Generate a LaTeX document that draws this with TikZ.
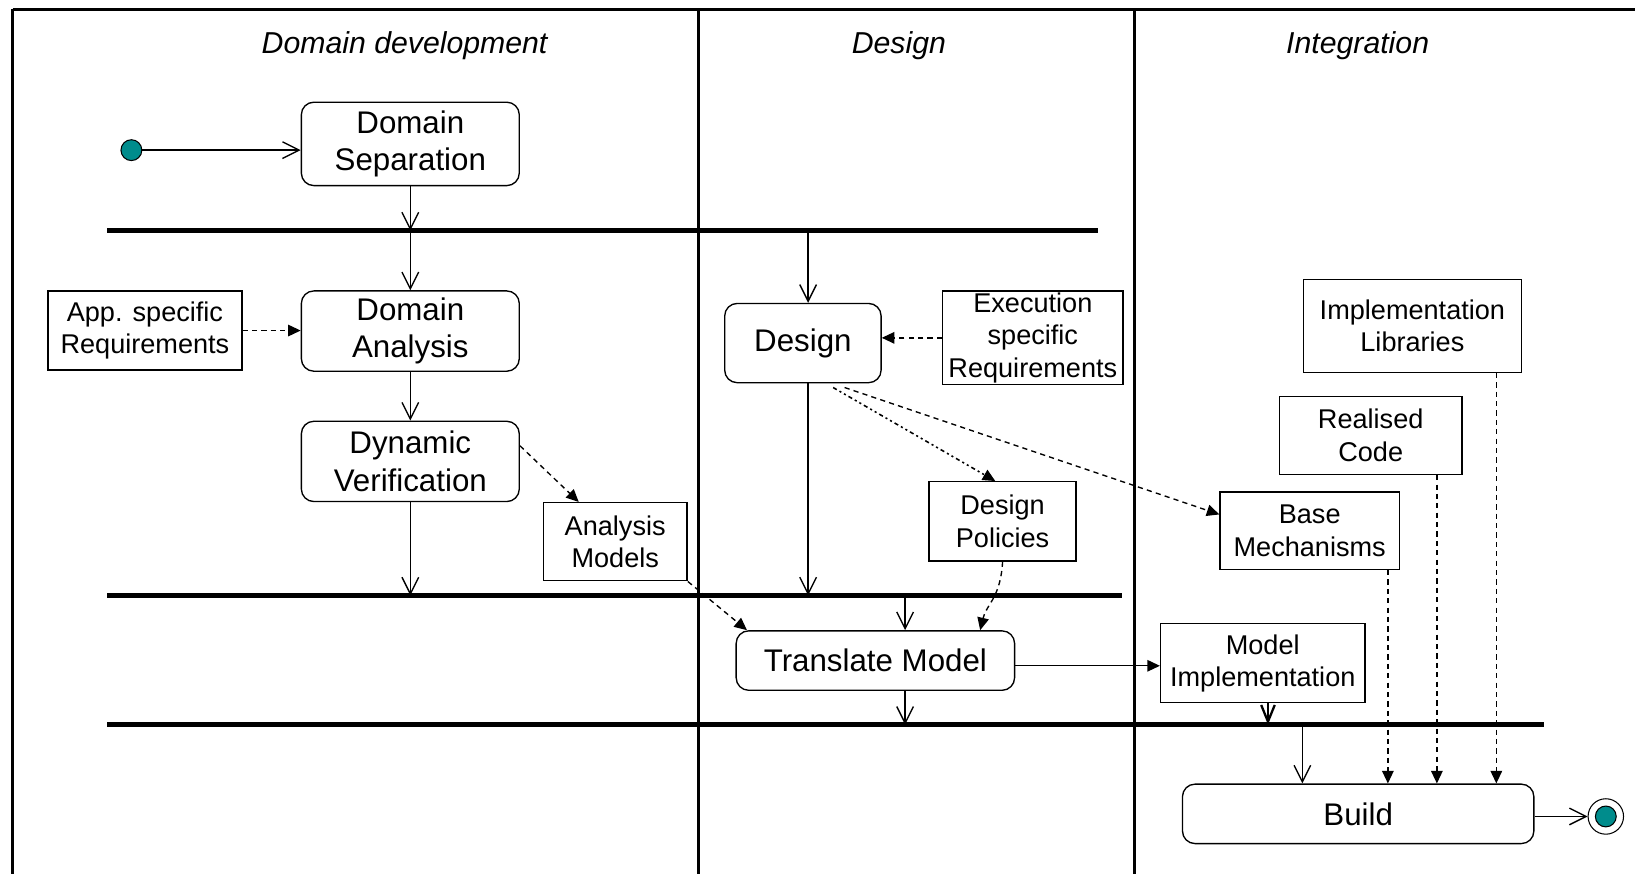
\documentclass[tikz,border=0pt]{standalone}
\usepackage{fontspec}
\setmainfont{Liberation Sans}
\usetikzlibrary{arrows.meta}
\definecolor{dotteal}{RGB}{0,140,140}

\begin{document}
\begin{tikzpicture}[x=1pt,y=-1pt,
  act/.style={draw, line width=1.3pt, rounded corners=12pt, inner sep=0pt,
    align=center, font=\fontsize{30}{36}\selectfont},
  obj/.style={draw, line width=1.3pt, inner sep=0pt, align=center,
    font=\fontsize{26}{31}\selectfont},
  lane/.style={font=\fontsize{29}{34}\selectfont\itshape},
  frameline/.style={line width=2.5pt},
  syncbar/.style={line width=5pt},
  flow/.style={line width=1.3pt,
    -{Straight Barb[length=16pt,width=16pt,line width=1.3pt]}},
  dep/.style={line width=1.3pt, dash pattern=on 5pt off 4pt,
    -{Triangle[length=12pt,width=11pt]}},
  depdot/.style={line width=1.5pt,
    dash pattern=on 4pt off 3pt on 2pt off 3pt on 2pt off 3pt,
    -{Triangle[length=12pt,width=11pt]}},
  solidobj/.style={line width=1.3pt, -{Triangle[length=12pt,width=11pt]}}
]
\useasboundingbox (0,0) rectangle (1568,838);

% swimlane frame and dividers
\coordinate (tl) at (12,9);
\coordinate (tr) at (1568,9);
\coordinate (bl) at (12,838);
\draw[line width=3pt] (tl) -- (tr);
\draw[line width=2pt] (tl) -- (bl);
\coordinate (d1t) at (670,9);
\coordinate (d1b) at (670,838);
\coordinate (d2t) at (1088,9);
\coordinate (d2b) at (1088,838);
\draw[frameline] (d1t) -- (d1b);
\draw[frameline] (d2t) -- (d2b);

% lane titles
\node[lane] (l1) at (388,44) {Domain development};
\node[lane] (l2) at (862,44) {Design};
\node[lane] (l3) at (1302,44) {Integration};

% synchronisation bars
\coordinate (bar1l) at (103,221);
\coordinate (bar1r) at (1053,221);
\coordinate (bar2l) at (103,571);
\coordinate (bar2r) at (1076,571);
\coordinate (bar3l) at (103,695);
\coordinate (bar3r) at (1481,695);
\draw[syncbar] (bar1l) -- (bar1r);
\draw[syncbar] (bar2l) -- (bar2r);
\draw[syncbar] (bar3l) -- (bar3r);

% activities
\node[act, minimum width=209pt, minimum height=80pt] (dsep) at (393.5,138) {Domain\\Separation};
\node[act, minimum width=209pt, minimum height=77pt] (dana) at (393.5,317.5) {Domain\\Analysis};
\node[act, minimum width=209pt, minimum height=77pt] (dver) at (393.5,442.5) {Dynamic\\Verification};
\node[act, minimum width=150pt, minimum height=76pt] (design) at (770,329) {Design};
\node[act, minimum width=267pt, minimum height=57pt] (tmodel) at (839.5,633.5) {Translate Model};
\node[act, minimum width=337pt, minimum height=57pt] (build) at (1302.5,780.5) {Build};

% objects
\node[obj, minimum width=186pt, minimum height=76pt] (appreq) at (139,317) {App. specific\\Requirements};
\node[obj, minimum width=138pt, minimum height=75pt] (anmod) at (590,519.5) {Analysis\\Models};
\node[obj, minimum width=173pt, minimum height=90pt] (execreq) at (990.5,324) {Execution\\specific\\Requirements};
\node[obj, minimum width=141pt, minimum height=76pt] (dpol) at (961.5,500) {Design\\Policies};
\node[obj, minimum width=196pt, minimum height=76pt] (mimpl) at (1211,636) {Model\\Implementation};
\node[obj, minimum width=209pt, minimum height=89pt] (implib) at (1354.5,312.5) {Implementation\\Libraries};
\node[obj, minimum width=175pt, minimum height=75pt] (rcode) at (1314.5,417.5) {Realised\\Code};
\node[obj, minimum width=172pt, minimum height=74pt] (basemech) at (1256,509) {Base\\Mechanisms};

% initial and final states
\node[circle, draw, line width=1pt, fill=dotteal, minimum size=20pt, inner sep=0pt] (init) at (126,144) {};
\node[circle, draw, line width=1pt, minimum size=34pt, inner sep=0pt] (final) at (1540,783) {};
\node[circle, draw, line width=1pt, fill=dotteal, minimum size=20pt, inner sep=0pt] (finalin) at (final) {};

% control flow
\draw[flow] (init) -- (init -| dsep.west);
\draw[flow] (dsep.south) -- (dsep.south |- bar1l);
\draw[flow] (dsep.south |- bar1l) -- (dana.north);
\draw[flow] (dana.south) -- (dver.north);
\draw[flow] (dver.south) -- (dver.south |- bar2l);
\draw[flow] ([xshift=5pt]design.north |- bar1l) -- ([xshift=5pt]design.north);
\draw[flow] ([xshift=5pt]design.south) -- ([xshift=5pt]design.south |- bar2l);
\draw[flow] ([xshift=28.5pt]tmodel.north |- bar2l) -- ([xshift=28.5pt]tmodel.north);
\draw[flow] ([xshift=28.5pt]tmodel.south) -- ([xshift=28.5pt]tmodel.south |- bar3l);
\draw[line width=2.2pt, -{Straight Barb[length=16pt,width=13pt,line width=2.2pt]}]
  ([xshift=5pt]mimpl.south) -- ([xshift=5pt]mimpl.south |- bar3l);
\draw[flow] ([xshift=-53.5pt]build.north |- bar3l) -- ([xshift=-53.5pt]build.north);
\draw[flow] (build.east |- final) -- (final.west);

% object flows
\draw[dep] (appreq.east) -- (appreq.east -| dana.west);
\draw[dep] ([yshift=15pt]dver.east) -- ([xshift=-35pt]anmod.north);
\draw[dep] (anmod.south east) -- ([xshift=11pt]tmodel.north west);
\draw[dep] (execreq.west) -- (execreq.west -| design.east);
\draw[depdot] ([xshift=29pt,yshift=-4pt]design.south) -- ([xshift=-7pt]dpol.north);
\draw[dep] ([xshift=40pt,yshift=-4pt]design.south) -- ([yshift=-22pt]basemech.north west);
\draw[dep] (dpol.south) .. controls +(-2,35) and +(6,-25) .. ([xshift=100.5pt]tmodel.north);
\draw[solidobj] ([yshift=-5pt]tmodel.east) -- ([yshift=-5pt]tmodel.east -| mimpl.west);
\draw[dep] ([xshift=75pt]basemech.south) -- ([xshift=75pt]basemech.south |- build.north);
\draw[dep] ([xshift=63.5pt]rcode.south) -- ([xshift=63.5pt]rcode.south |- build.north);
\draw[dep] ([xshift=80.5pt]implib.south) -- ([xshift=80.5pt]implib.south |- build.north);
\end{tikzpicture}
\end{document}
